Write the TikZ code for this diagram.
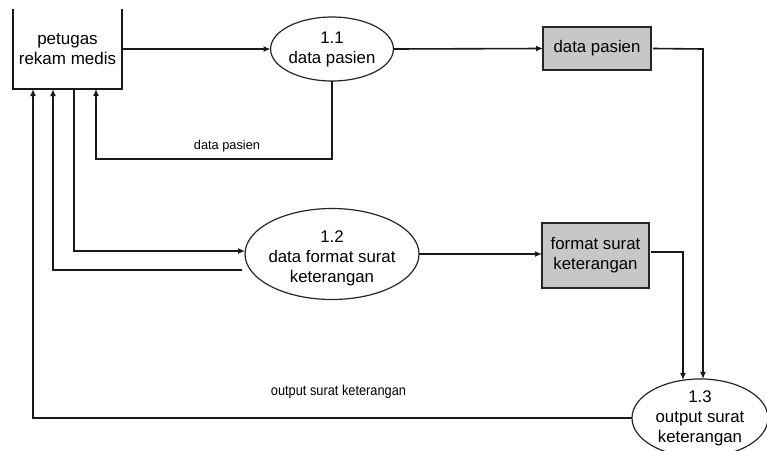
\documentclass[tikz,border=0pt]{standalone}
\usepackage{fontspec}
\setmainfont{Liberation Sans}
\usetikzlibrary{arrows.meta,shapes.geometric}

\tikzset{
  flow/.style={draw=black!90, line width=1.6pt, -{Latex[length=7pt,width=6pt]}},
  plain/.style={draw=black!90, line width=1.6pt},
  proc/.style={ellipse, draw=black!85, line width=1.2pt, inner sep=0pt, outer sep=0pt,
    align=center, font=\fontsize{16.8}{20}\selectfont},
  store/.style={rectangle, draw=black!85, line width=1.6pt, fill=black!22, inner sep=0pt,
    outer sep=0pt, align=center, font=\fontsize{16.8}{20}\selectfont},
  entity/.style={rectangle, inner sep=0pt, outer sep=0pt, align=center,
    font=\fontsize{17}{20}\selectfont},
  flowlabel/.style={inner sep=0pt, font=\fontsize{12.8}{15}\selectfont}
}

\begin{document}
\begin{tikzpicture}[x=1pt, y=-1pt]
  \clip (0,0) rectangle (767,450);
  \fill[white] (0,0) rectangle (767,450);

  % external entity (top edge lies outside the frame)
  \node[entity, minimum width=109pt, minimum height=80pt] (petugas) at (67.5,49)
    {petugas\\rekam medis};
  \draw[plain] (petugas.north west) -- (petugas.south west) -- (petugas.south east)
    -- (petugas.north east);

  % processes
  \node[proc, minimum width=108pt, minimum height=64pt] (p11) at (332,49)
    {1.1\\data pasien};
  \node[proc, minimum width=174pt, minimum height=91pt] (p12) at (332,254) {};
  \node[inner sep=0pt, align=center, font=\fontsize{16.8}{20}\selectfont] (p12text)
    at (332,258) {1.2\\data format surat\\keterangan};
  \node[proc, minimum width=136pt, minimum height=72pt] (p13) at (700,418)
    {1.3\\output surat\\keterangan};

  % data stores
  \node[store, minimum width=108pt, minimum height=43pt] (ds1) at (597,48.5)
    {data pasien};
  \node[store, minimum width=107pt, minimum height=65pt] (ds2) at (595.5,255.5)
    {format surat\\keterangan};

  % bend points
  \coordinate (k1) at (96,159);
  \coordinate (k2) at (74,251);
  \coordinate (k3) at (53,270);
  \coordinate (k4) at (33,418);
  \coordinate (k5) at (703,49);
  \coordinate (k6) at (683,252);

  % flows around process 1.1
  \draw[flow] (petugas.east) -- (p11.west);
  \draw[flow] (p11.east) -- (ds1.west);
  \draw[flow] (p11.south) |- (k1) -- (k1 |- petugas.south);
  \node[flowlabel] (lbl1) at (227,146) {data pasien};

  % flows around process 1.2
  \draw[flow] (k2 |- petugas.south) -- (k2) -- (k2 -| p12.west);
  \draw[flow] ([xshift=-3pt,yshift=-16pt]p12.west) -- (k3) -- (k3 |- petugas.south);
  \draw[flow] (p12.east) -- (p12.east -| ds2.west);

  % flows into process 1.3
  \draw[flow] ([xshift=2pt]ds1.east) -- (k5) -- ([xshift=3pt]p13.north);
  \draw[flow] ([xshift=2pt,yshift=3.5pt]ds2.east) -- (k6) -- ([xshift=-17pt,yshift=-1pt]p13.north);

  % output back to the entity
  \draw[flow] (p13.west) -- (k4) -- (k4 |- petugas.south);
  \node[flowlabel, yscale=1.12] (lbl2) at (338.5,392) {output surat keterangan};
\end{tikzpicture}
\end{document}
